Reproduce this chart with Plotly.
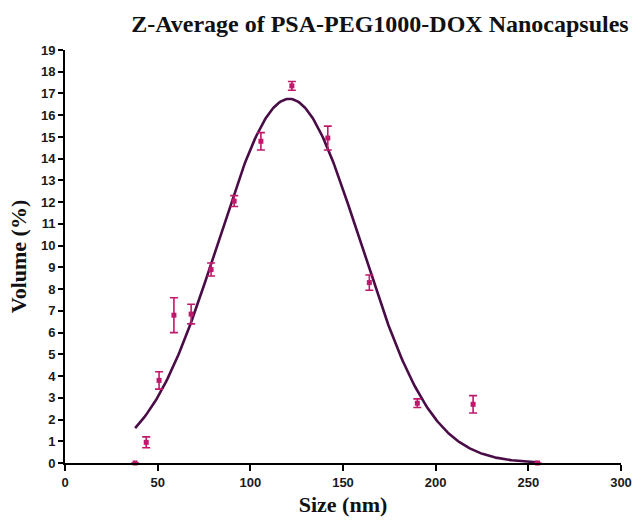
import numpy as np
import plotly.graph_objects as go

# Size bins (nm) and measured volume distribution (%), mean ± SD
size_nm = [37.84, 43.82, 50.75, 58.77, 68.06, 78.82, 91.28, 105.7, 122.4,
           141.8, 164.2, 190.1, 220.2, 255.0]
volume_pct = [0.0, 0.95, 3.8, 6.8, 6.85, 8.9, 12.05, 14.8, 17.35,
              14.95, 8.3, 2.75, 2.7, 0.0]
volume_sd = [0.0, 0.25, 0.4, 0.8, 0.45, 0.3, 0.25, 0.4, 0.2,
             0.55, 0.35, 0.2, 0.4, 0.0]

# Gaussian fit parameters: amplitude, mean, SD
fit_amplitude = 16.75
fit_mean = 121.0
fit_sd = 38.4
fit_range = [37.84, 255.0]

x_ticks = [0, 50, 100, 150, 200, 250, 300]
y_ticks = list(range(0, 20))

point_color = "#C0186B"
curve_color = "#4A0C46"

xf = np.linspace(fit_range[0], fit_range[1], 300)
yf = fit_amplitude * np.exp(-((xf - fit_mean) ** 2) / (2 * fit_sd ** 2))

fig = go.Figure()
fig.add_trace(go.Scatter(
    x=xf, y=yf, mode="lines",
    line=dict(color=curve_color, width=2.6),
    hoverinfo="skip", showlegend=False,
))
fig.add_trace(go.Scatter(
    x=size_nm, y=volume_pct, mode="markers",
    marker=dict(symbol="square", size=5, color=point_color),
    error_y=dict(type="data", array=volume_sd, visible=True,
                 color=point_color, thickness=1.6, width=4),
    cliponaxis=False, showlegend=False,
))

tick_font = dict(family="Liberation Sans, Arial, sans-serif", size=13, color="#1a1a1a")
title_font = dict(family="Liberation Serif, Times New Roman, serif", size=22, color="#111111")

fig.update_layout(
    width=644, height=525,
    margin=dict(l=65, r=12, t=50, b=55),
    paper_bgcolor="white", plot_bgcolor="white",
    title=dict(
        text="<b>Z-Average of PSA-PEG1000-DOX Nanocapsules</b>",
        x=0.59, xanchor="center", y=0.955, yanchor="middle",
        font=dict(family="Liberation Serif, Times New Roman, serif", size=24, color="#111111"),
    ),
    xaxis=dict(
        range=[0, 300], tickvals=x_ticks, ticktext=[f"<b>{t}</b>" for t in x_ticks],
        showgrid=False, zeroline=False, showline=True, linecolor="black", linewidth=2,
        ticks="outside", ticklen=6, tickwidth=2, tickcolor="black",
        tickfont=tick_font,
        title=dict(text="<b>Size (nm)</b>", font=title_font, standoff=8),
    ),
    yaxis=dict(
        range=[0, 19], tickvals=y_ticks, ticktext=[f"<b>{t}</b>" for t in y_ticks],
        showgrid=False, zeroline=False, showline=True, linecolor="black", linewidth=2,
        ticks="outside", ticklen=5, tickwidth=2, tickcolor="black",
        tickfont=tick_font,
        title=dict(text="<b>Volume (%)</b>", font=title_font, standoff=8),
    ),
)

fig.write_html("out.html")
